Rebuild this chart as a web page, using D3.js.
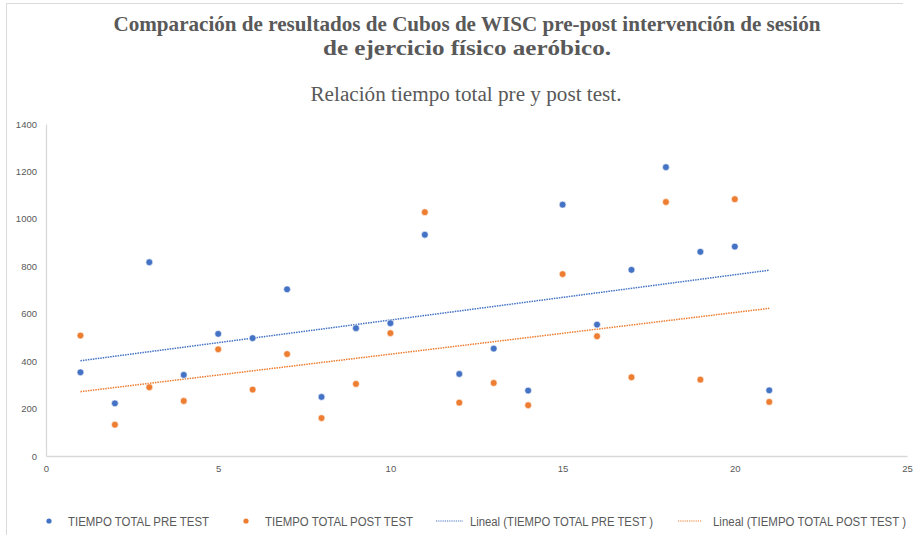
<!DOCTYPE html>
<html>
<head>
<meta charset="utf-8">
<script src="https://cdn.jsdelivr.net/npm/d3@7"></script>
<style>
  body { margin: 0; background: #fff; }
  svg { display: block; }
</style>
</head>
<body>
<div id="chart"></div>
<script>
// Data
var participants = [1, 2, 3, 4, 5, 6, 7, 8, 9, 10, 11, 12, 13, 14, 15, 16, 17, 18, 19, 20, 21];
var preTest  = [353, 222, 817, 342, 515, 497, 703, 249, 539, 560, 933, 346, 453, 276, 1060, 554, 785, 1218, 861, 883, 277];
var postTest = [508, 132, 290, 232, 450, 280, 430, 160, 304, 518, 1028, 225, 308, 214, 767, 505, 332, 1071, 322, 1083, 228];
var xTicks = [0, 5, 10, 15, 20, 25];
var yTicks = [0, 200, 400, 600, 800, 1000, 1200, 1400];
var titleLines = ["Comparación de resultados de Cubos de WISC pre-post intervención de sesión",
                  "de ejercicio físico aeróbico."];
var subtitle = "Relación tiempo total pre y post test.";
var legendLabels = ["TIEMPO TOTAL PRE TEST", "TIEMPO TOTAL POST TEST",
                    "Lineal (TIEMPO TOTAL PRE TEST )", "Lineal (TIEMPO TOTAL POST TEST )"];

var blue = "#4472c4";
var orange = "#ed7d31";
var textGray = "#595959";

var w = 914;
var h = 535;

var svg = d3.select("#chart").append("svg")
  .attr("width", w)
  .attr("height", h);

// chart frame (left + top edges visible)
svg.append("path")
  .attr("d", "M6.5,535 V3.5 H903")
  .attr("fill", "none")
  .attr("stroke", "#d9d9d9")
  .attr("stroke-width", 1);

var x = d3.scaleLinear().domain([0, 25]).range([46, 907]);
var y = d3.scaleLinear().domain([0, 1400]).range([456, 124]);

// titles - widths (Times bold there is narrow)
var titleWidths = [707, 288];
svg.append("g").selectAll("text")
  .data(titleLines)
  .enter().append("text")
  .attr("x", 467)
  .attr("y", function(d, i) { return 31 + i * 24; })
  .attr("text-anchor", "middle")
  .attr("font-family", "'Liberation Serif', 'Times New Roman', serif")
  .attr("font-weight", "bold")
  .attr("font-size", 21.5)
  .attr("fill", textGray)
  .attr("textLength", function(d, i) { return titleWidths[i]; })
  .attr("lengthAdjust", "spacingAndGlyphs")
  .text(function(d) { return d; });

svg.append("text")
  .attr("x", 466)
  .attr("y", 101)
  .attr("text-anchor", "middle")
  .attr("font-family", "'Liberation Serif', 'Times New Roman', serif")
  .attr("font-size", 20)
  .attr("fill", textGray)
  .attr("textLength", 311)
  .attr("lengthAdjust", "spacingAndGlyphs")
  .text(subtitle);

// axes
var yAxis = d3.axisLeft(y).tickValues(yTicks).tickFormat(d3.format("d")).tickSize(0).tickPadding(9);
var xAxis = d3.axisBottom(x).tickValues(xTicks).tickFormat(d3.format("d")).tickSize(0).tickPadding(9);

var gy = svg.append("g").attr("transform", "translate(" + x(0) + ",0)").call(yAxis);
var gx = svg.append("g").attr("transform", "translate(0," + y(0) + ")").call(xAxis);

[gx, gy].forEach(function(g) {
  g.select(".domain").attr("stroke", "#d9d9d9").attr("stroke-width", 1.3);
  g.selectAll("text")
    .attr("font-family", "'Liberation Sans', Arial, sans-serif")
    .attr("font-size", 9.5)
    .attr("fill", textGray);
});

// least squares trend, like Excel's "Lineal"
function trend(xs, ys) {
  var mx = d3.mean(xs), my = d3.mean(ys);
  var num = d3.sum(xs, function(v, i) { return (v - mx) * (ys[i] - my); });
  var den = d3.sum(xs, function(v) { return (v - mx) * (v - mx); });
  var b = num / den;
  var a = my - b * mx;
  var x0 = d3.min(xs), x1 = d3.max(xs);
  return [[x0, a + b * x0], [x1, a + b * x1]];
}

var line = d3.line()
  .x(function(d) { return x(d[0]); })
  .y(function(d) { return y(d[1]); });

var series = [
  { values: preTest, color: blue },
  { values: postTest, color: orange }
];

series.forEach(function(s) {
  svg.append("path")
    .datum(trend(participants, s.values))
    .attr("d", line)
    .attr("fill", "none")
    .attr("stroke", s.color)
    .attr("stroke-width", 1.5)
    .attr("stroke-dasharray", "1.5 1");
});

series.forEach(function(s) {
  svg.append("g").selectAll("circle")
    .data(s.values)
    .enter().append("circle")
    .attr("cx", function(d, i) { return x(participants[i]); })
    .attr("cy", function(d) { return y(d); })
    .attr("r", 3.4)
    .attr("fill", s.color)
    .attr("stroke", "#fff")
    .attr("stroke-width", 0.6);
});

// legend
var legendY = 521;
var legendItems = [
  { kind: "dot", color: blue, mark: 49, textX: 68, textW: 141 },
  { kind: "dot", color: orange, mark: 246, textX: 265, textW: 148 },
  { kind: "line", color: blue, mark: [436, 463], textX: 470, textW: 183 },
  { kind: "line", color: orange, mark: [678, 702], textX: 713, textW: 193 }
];

var legend = svg.append("g");
legendItems.forEach(function(d, i) {
  if (d.kind == "dot") {
    legend.append("circle")
      .attr("cx", d.mark).attr("cy", legendY)
      .attr("r", 2.6)
      .attr("fill", d.color);
  } else {
    legend.append("line")
      .attr("x1", d.mark[0]).attr("x2", d.mark[1])
      .attr("y1", legendY).attr("y2", legendY)
      .attr("stroke", d.color)
      .attr("stroke-width", 1.2)
      .attr("stroke-dasharray", "1.2 1");
  }
  legend.append("text")
    .attr("x", d.textX)
    .attr("y", legendY + 4.5)
    .attr("font-family", "'Liberation Sans', Arial, sans-serif")
    .attr("font-size", 12.5)
    .attr("fill", textGray)
    .attr("textLength", d.textW)
    .attr("lengthAdjust", "spacingAndGlyphs")
    .text(legendLabels[i]);
});
</script>
</body>
</html>
